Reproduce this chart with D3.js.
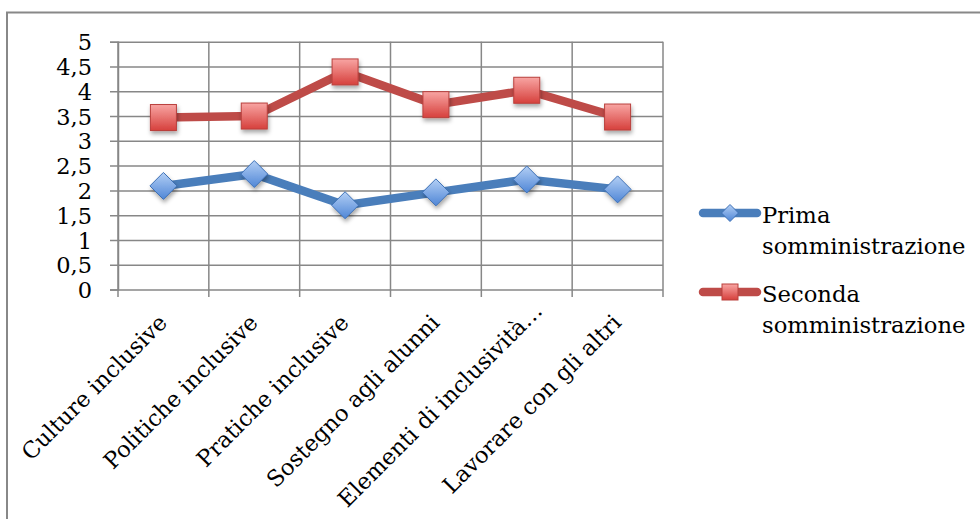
<!DOCTYPE html>
<html><head><meta charset="utf-8">
<script src="https://cdn.jsdelivr.net/npm/d3@7"></script>
<style>html,body{margin:0;padding:0;background:#fff;}svg{display:block;}</style>
</head><body>
<script>
const categories = ["Culture inclusive","Politiche inclusive","Pratiche inclusive","Sostegno agli alunni","Elementi di inclusività…","Lavorare con gli altri"];
const prima = [2.09, 2.33, 1.70, 1.96, 2.22, 2.02];
const seconda = [3.47, 3.50, 4.39, 3.73, 4.02, 3.48];
const yTicks = [0,0.5,1,1.5,2,2.5,3,3.5,4,4.5,5];
const seriesNames = [["Prima","somministrazione"],["Seconda","somministrazione"]];

const W = 980, H = 519;
const FONT = "'DejaVu Serif', serif";
const svg = d3.select("body").append("svg").attr("width", W).attr("height", H);
const defs = svg.append("defs");
const f = defs.append("filter").attr("id","sh").attr("x","-50%").attr("y","-50%").attr("width","200%").attr("height","200%");
f.append("feDropShadow").attr("dx",1).attr("dy",3).attr("stdDeviation",2).attr("flood-color","#000").attr("flood-opacity",0.35);
const gb = defs.append("linearGradient").attr("id","gb").attr("x1",0).attr("y1",0).attr("x2",0).attr("y2",1);
gb.append("stop").attr("offset","0").attr("stop-color","#b3cff5");
gb.append("stop").attr("offset","1").attr("stop-color","#4f86d6");
const gr = defs.append("linearGradient").attr("id","gr").attr("x1",0).attr("y1",0).attr("x2",0).attr("y2",1);
gr.append("stop").attr("offset","0").attr("stop-color","#f8a5a3");
gr.append("stop").attr("offset","1").attr("stop-color","#d6403c");

// outer frame
svg.append("path").attr("d", `M7,${H} V12.5 H${W}`).attr("fill","none").attr("stroke","#888").attr("stroke-width",2);

const x = d3.scaleBand().domain(categories).range([118, 663]);
const y = d3.scaleLinear().domain([0,5]).range([289.5, 41.7]);
const gridC = "#878787";

// horizontal gridlines + y ticks
const yAxis = svg.append("g").attr("transform","translate(118,0)")
  .call(d3.axisLeft(y).tickValues(yTicks).tickSize(8).tickFormat(d => String(d).replace(".", ",")));
yAxis.select(".domain").attr("stroke", gridC).attr("stroke-width",1.5);
yAxis.selectAll(".tick line").attr("stroke", gridC).attr("stroke-width",1.5).attr("x2", 663-118).attr("x1",-8);
yAxis.selectAll(".tick text").attr("x",-26).attr("dy","0.36em").attr("font-family",FONT).attr("font-size",22.5).attr("fill","#000");

// vertical gridlines at band boundaries
const bounds = categories.map(c => x(c)).concat([x.range()[1]]);
svg.append("g").selectAll("line").data(bounds).join("line")
  .attr("x1", d=>d).attr("x2", d=>d).attr("y1", y(5)).attr("y2", 297)
  .attr("stroke", gridC).attr("stroke-width",1.5);

// x labels (truncated labels sit a little further along the text direction)
svg.append("g").selectAll("text").data(categories).join("text")
  .attr("transform", d => `translate(${x(d)+x.bandwidth()/2+5},${324}) rotate(-45)`)
  .attr("dx", d => d.endsWith("…") ? 17 : 0)
  .attr("text-anchor","end").attr("font-family",FONT).attr("font-size",22.5).attr("fill","#000")
  .text(d=>d);

const cx = d => x(d) + x.bandwidth()/2;
const line = d3.line().x((v,i)=>cx(categories[i])).y(v=>y(v));

// series lines
svg.append("path").datum(prima).attr("d", line).attr("fill","none").attr("stroke","#4a7ebb").attr("stroke-width",8.5).attr("stroke-linejoin","round");
svg.append("path").datum(seconda).attr("d", line).attr("fill","none").attr("stroke","#be4b48").attr("stroke-width",8.5).attr("stroke-linejoin","round");

// markers
const ds = 13.5;
svg.append("g").selectAll("path").data(prima).join("path")
  .attr("d", (v,i)=>{const px=cx(categories[i]), py=y(v); return `M${px},${py-ds} L${px+ds},${py} L${px},${py+ds} L${px-ds},${py} Z`;})
  .attr("fill","url(#gb)").attr("stroke","#3d70b5").attr("stroke-width",1).attr("filter","url(#sh)");
const sq = 13;
svg.append("g").selectAll("rect").data(seconda).join("rect")
  .attr("x",(v,i)=>cx(categories[i])-sq).attr("y",v=>y(v)-sq).attr("width",sq*2).attr("height",sq*2)
  .attr("fill","url(#gr)").attr("stroke","#b9403d").attr("stroke-width",1).attr("filter","url(#sh)");

// legend
const lg = svg.append("g");
const legY = [213, 292];
const cols = ["#4a7ebb","#be4b48"];
legY.forEach((ly,i)=>{
  lg.append("line").attr("x1",703).attr("x2",757).attr("y1",ly).attr("y2",ly).attr("stroke",cols[i]).attr("stroke-width",8.5).attr("stroke-linecap","round");
  if(i===0){
    const s=8.5;
    lg.append("path").attr("d",`M730,${ly-s} L${730+s},${ly} L730,${ly+s} L${730-s},${ly} Z`).attr("fill","url(#gb)").attr("stroke","#3d70b5").attr("stroke-width",1);
  } else {
    const s=8;
    lg.append("rect").attr("x",730-s).attr("y",ly-s).attr("width",2*s).attr("height",2*s).attr("fill","url(#gr)").attr("stroke","#b9403d").attr("stroke-width",1);
  }
  const t = lg.append("text").attr("x",762).attr("y",ly+10).attr("font-family",FONT).attr("font-size",22.7).attr("fill","#000");
  seriesNames[i].forEach((s,j)=> t.append("tspan").attr("x",762).attr("dy", j===0?0:30.5).text(s));
});
</script>
</body></html>
